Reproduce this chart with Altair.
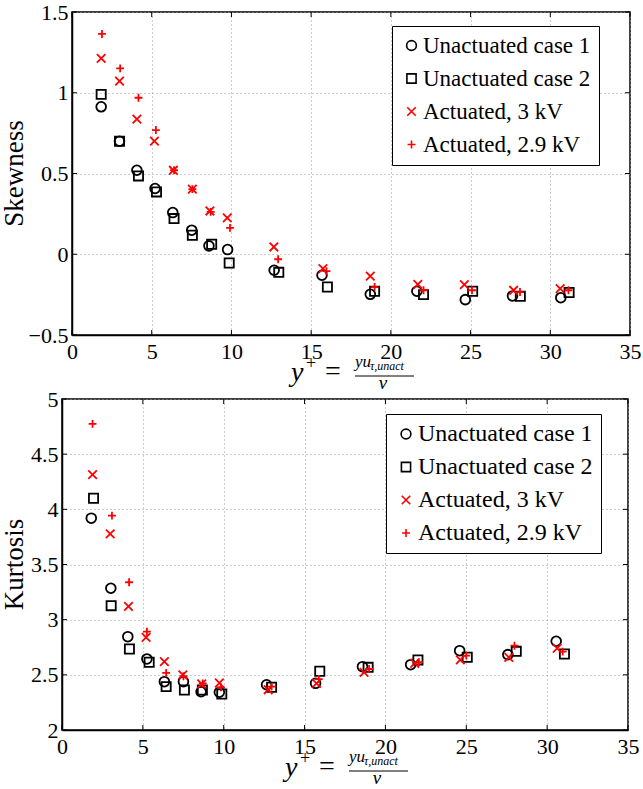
import altair as alt
import pandas as pd

FONT = "Liberation Serif"

SERIES = ["Unactuated case 1", "Unactuated case 2", "Actuated, 3 kV", "Actuated, 2.9 kV"]
COLORS = ["#000000", "#000000", "#ff0000", "#ff0000"]
SHAPES = ["circle", "square", "M-1,-1L1,1M-1,1L1,-1", "M-1,0L1,0M0,-1L0,1"]
MARKER_SIZES = [95, 62, 64, 140]

X_TICKS = [0, 5, 10, 15, 20, 25, 30, 35]
SKEW_TICKS = [-0.5, 0, 0.5, 1, 1.5]
KURT_TICKS = [2, 2.5, 3, 3.5, 4, 4.5, 5]

# ---------------- Skewness ----------------
SKEW_C1_X = [1.83, 2.98, 4.07, 5.21, 6.32, 7.51, 8.59, 9.76, 12.68, 15.68, 18.71, 21.63, 24.67, 27.63, 30.66]
SKEW_C1_Y = [0.913, 0.70, 0.52, 0.407, 0.258, 0.149, 0.052, 0.029, -0.099, -0.13, -0.248, -0.229, -0.281, -0.258, -0.269]
SKEW_C2_X = [1.83, 2.98, 4.17, 5.30, 6.40, 7.55, 8.76, 9.86, 12.97, 16.02, 18.98, 22.05, 25.13, 28.12, 31.18]
SKEW_C2_Y = [0.99, 0.70, 0.485, 0.386, 0.221, 0.118, 0.062, -0.054, -0.112, -0.203, -0.229, -0.25, -0.229, -0.26, -0.237]
SKEW_A3_X = [1.83, 2.98, 4.07, 5.17, 6.36, 7.55, 8.65, 9.74, 12.66, 15.74, 18.71, 21.69, 24.61, 27.70, 30.62]
SKEW_A3_Y = [1.213, 1.072, 0.837, 0.70, 0.52, 0.403, 0.268, 0.225, 0.045, -0.089, -0.136, -0.186, -0.188, -0.223, -0.213]
SKEW_A29_X = [1.88, 3.02, 4.17, 5.26, 6.40, 7.55, 8.70, 9.91, 12.93, 15.96, 18.98, 22.05, 25.09, 28.10, 31.14]
SKEW_A29_Y = [1.364, 1.151, 0.969, 0.769, 0.52, 0.403, 0.262, 0.163, -0.031, -0.105, -0.203, -0.223, -0.223, -0.234, -0.223]

# ---------------- Kurtosis ----------------
KURT_C1_X = [1.81, 3.02, 4.07, 5.25, 6.33, 7.51, 8.60, 9.73, 12.65, 15.68, 18.58, 21.56, 24.59, 27.57, 30.56]
KURT_C1_Y = [3.92, 3.285, 2.846, 2.644, 2.438, 2.438, 2.347, 2.342, 2.41, 2.423, 2.574, 2.592, 2.719, 2.683, 2.804]
KURT_C2_X = [1.95, 3.04, 4.17, 5.39, 6.44, 7.57, 8.68, 9.88, 12.96, 15.94, 18.93, 22.01, 25.06, 28.09, 31.07]
KURT_C2_Y = [4.10, 3.127, 2.734, 2.614, 2.393, 2.363, 2.363, 2.326, 2.387, 2.532, 2.568, 2.635, 2.659, 2.713, 2.689]
KURT_A3_X = [1.89, 2.98, 4.11, 5.20, 6.33, 7.47, 8.64, 9.73, 12.75, 15.74, 18.68, 21.81, 24.63, 27.63, 30.62]
KURT_A3_Y = [4.315, 3.777, 3.121, 2.84, 2.62, 2.499, 2.417, 2.426, 2.365, 2.423, 2.523, 2.605, 2.635, 2.659, 2.741]
KURT_A29_X = [1.89, 3.09, 4.15, 5.25, 6.44, 7.51, 8.70, 9.83, 12.96, 15.88, 18.99, 22.07, 25.00, 27.98, 30.96]
KURT_A29_Y = [4.774, 3.943, 3.339, 2.891, 2.517, 2.487, 2.423, 2.387, 2.393, 2.462, 2.553, 2.614, 2.674, 2.764, 2.71]


def series_frame(xs, ys):
    rows = []
    for name, xv, yv in zip(SERIES, xs, ys):
        for a, b in zip(xv, yv):
            rows.append({"series": name, "x": a, "y": b})
    return pd.DataFrame(rows)


skew_df = series_frame([SKEW_C1_X, SKEW_C2_X, SKEW_A3_X, SKEW_A29_X],
                       [SKEW_C1_Y, SKEW_C2_Y, SKEW_A3_Y, SKEW_A29_Y])
kurt_df = series_frame([KURT_C1_X, KURT_C2_X, KURT_A3_X, KURT_A29_X],
                       [KURT_C1_Y, KURT_C2_Y, KURT_A3_Y, KURT_A29_Y])

ONE = pd.DataFrame({"k": [0]})


def txt(s, x, y, size, italic=True, align="left", baseline="alphabetic", angle=0):
    kw = dict(text=s, fontSize=size, font=FONT, align=align, baseline=baseline, color="black")
    if italic:
        kw["fontStyle"] = "italic"
    if angle:
        kw["angle"] = angle
    return alt.Chart(ONE).mark_text(**kw).encode(x=alt.value(x), y=alt.value(y))


def panel(df, ydomain, yticks, ytitle, W, H, title_dx, lx, ly, legend_font):
    xs = alt.Scale(domain=[0, 35], nice=False, zero=False)
    ys = alt.Scale(domain=ydomain, nice=False, zero=False)
    leg = alt.Legend(title=None, orient="none", legendX=lx, legendY=ly,
                     fillColor="white", strokeColor="black", padding=8,
                     labelFont=FONT, labelFontSize=legend_font, labelColor="black",
                     labelLimit=400,
                     symbolSize=50, symbolStrokeWidth=1.6, rowPadding=9, labelOffset=0)
    points = alt.Chart(df).mark_point(filled=False, strokeWidth=1.8, opacity=1).encode(
        x=alt.X("x:Q", scale=xs, axis=alt.Axis(values=X_TICKS, format="~g", title=None,
                                               labelFlush=False, labelOverlap=False, labelPadding=6)),
        y=alt.Y("y:Q", scale=ys, axis=alt.Axis(values=yticks, format="~g", title=None,
                                               labelFlush=False, labelOverlap=False, labelPadding=4)),
        color=alt.Color("series:N", scale=alt.Scale(domain=SERIES, range=COLORS), legend=leg),
        shape=alt.Shape("series:N", scale=alt.Scale(domain=SERIES, range=SHAPES), legend=leg),
        size=alt.Size("series:N", scale=alt.Scale(domain=SERIES, range=MARKER_SIZES), legend=None),
    )
    xt = pd.DataFrame({"x": X_TICKS})
    yt = pd.DataFrame({"y": yticks})
    rule = dict(color="black", strokeWidth=1)
    t_bottom = alt.Chart(xt).mark_rule(**rule).encode(x="x:Q", y=alt.value(H), y2=alt.value(H - 5))
    t_top = alt.Chart(xt).mark_rule(**rule).encode(x="x:Q", y=alt.value(0), y2=alt.value(5))
    t_left = alt.Chart(yt).mark_rule(**rule).encode(y="y:Q", x=alt.value(0), x2=alt.value(5))
    t_right = alt.Chart(yt).mark_rule(**rule).encode(y="y:Q", x=alt.value(W - 5), x2=alt.value(W))

    cx = W / 2 + 2
    title_parts = [
        txt(ytitle, title_dx, H / 2, 27, italic=False, align="center", baseline="middle", angle=270),
        txt("y", cx - 62, H + 46, 28),
        txt("+", cx - 47, H + 34, 18, italic=False),
        txt("=", cx - 28, H + 45, 28, italic=False),
        txt("yu", cx + 2, H + 32, 17),
        txt("τ,unact", cx + 17, H + 34.5, 12),
        txt("ν", cx + 30, H + 54, 19, align="center"),
        alt.Chart(ONE).mark_rule(color="black", strokeWidth=1).encode(
            x=alt.value(cx + 2), x2=alt.value(cx + 61), y=alt.value(H + 41)),
    ]
    return alt.layer(t_bottom, t_top, t_left, t_right, points, *title_parts).properties(width=W, height=H)


W1, H1 = 558, 323
W2, H2 = 566, 331

top = panel(skew_df, [-0.5, 1.5], SKEW_TICKS, "Skewness", W1, H1, -56.7, 320, 14, 23)
bottom = panel(kurt_df, [2, 5], KURT_TICKS, "Kurtosis", W2, H2, -46.7, 324, 15, 24)

spacer = alt.Chart(ONE).mark_point(opacity=0).encode(
    x=alt.value(0), y=alt.value(0)
).properties(width=10, height=H1, view=alt.ViewBackground(strokeOpacity=0))

top_row = alt.hconcat(spacer, top, spacing=0, bounds="flush").resolve_scale(
    color="independent", shape="independent", size="independent")

chart = alt.vconcat(top_row, bottom, spacing=-7).resolve_scale(
    color="independent", shape="independent", size="independent"
).properties(
    padding={"left": 0, "top": 0, "right": 0, "bottom": 0}
).configure(font=FONT).configure_view(
    stroke="black", strokeWidth=1.5
).configure_axis(
    labelFont=FONT, labelFontSize=22, labelColor="black",
    domainColor="black", domainWidth=1.5, ticks=False,
    grid=True, gridColor="#9a9a9a", gridDash=[1, 3], gridWidth=1,
)

chart.save("out.html", embed_options={"renderer": "svg", "actions": False})
